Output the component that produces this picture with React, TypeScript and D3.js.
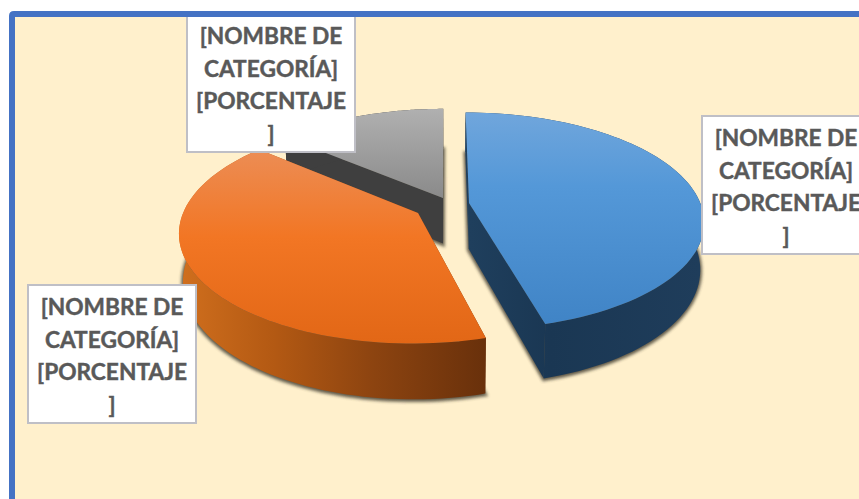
import React from "react";
import * as d3 from "d3";

const categories = ["azul", "naranja", "gris"];
const shareValues = [45.8, 40.4, 13.8];
const labelLines = ["[NOMBRE DE", "CATEGORÍA]", "[PORCENTAJE", "]"];

const W = 859, H = 499;
const view = { cx: 445, cy: 205, b: 232, a: 106, k: 0.165, depth: 46, taper: 0.985 };
// exploded apex of each slice, in screen space
const apexX = [469, 418, 443];
const apexY = [203, 213, 198];
const wallFill = ["url(#sideBlue)", "url(#sideOrange)", "#3f3f3f"];
const topFill = ["url(#topBlue)", "url(#topOrange)", "url(#topGray)"];
const labelBoxX = [702, 28, 187];
const labelBoxY = [116, 285, 14];

type P = [number, number];
const project = (wx: number, wy: number): P => {
  const den = 1 - view.k * wy;
  return [view.cx + (wx * view.b) / den, view.cy + (wy * view.a) / den];
};
const lower = (wx: number, wy: number): P => {
  const den = 1 - view.k * wy;
  const [x, y] = project(wx, wy);
  return [view.cx + (x - view.cx) * view.taper, y + view.depth / den];
};
const line = d3.line<P>();

const arcs = d3.pie<number>().sort(null).value((d) => d)(shareValues);

function slicePaths(i: number) {
  const dY = apexY[i] - view.cy;
  const wy0 = dY / (view.a + view.k * dY);
  const wx0 = ((apexX[i] - view.cx) * (1 - view.k * wy0)) / view.b;
  const { startAngle, endAngle } = arcs[i];
  const steps = d3.range(0, 81).map((s) => startAngle + ((endAngle - startAngle) * s) / 80);
  const rim: P[] = steps.map((t) => [wx0 + Math.sin(t), wy0 - Math.cos(t)]);
  const topRim = rim.map(([x, y]) => project(x, y));
  const botRim = rim.map(([x, y]) => lower(x, y));
  const topApex = project(wx0, wy0);
  const botApex = lower(wx0, wy0);
  const top = line([topApex, ...topRim])! + "Z";
  const bottom = line([botApex, ...botRim])! + "Z";
  const outerWall = line([...topRim, ...[...botRim].reverse()])! + "Z";
  const startWall = line([topApex, topRim[0], botRim[0], botApex])! + "Z";
  const endWall = line([topApex, topRim[80], botRim[80], botApex])! + "Z";
  return { top, bottom, outerWall, startWall, endWall };
}

const paths = categories.map((_, i) => slicePaths(i));
const paintOrder = [2, 0, 1];

export default function App() {
  return (
    <svg width={W} height={H} viewBox={`0 0 ${W} ${H}`} style={{ position: "absolute", left: 0, top: 0, display: "block" }}>
      <defs>
        <linearGradient id="topBlue" x1="0" x2="0" y1="0" y2="1">
          <stop offset="0" stopColor="#70a6dc" />
          <stop offset="0.35" stopColor="#5498d8" />
          <stop offset="1" stopColor="#4084c6" />
        </linearGradient>
        <linearGradient id="topOrange" x1="0" x2="0" y1="0" y2="1">
          <stop offset="0" stopColor="#ec8d55" />
          <stop offset="0.45" stopColor="#f27624" />
          <stop offset="1" stopColor="#e26716" />
        </linearGradient>
        <linearGradient id="topGray" x1="0" x2="0" y1="0" y2="1">
          <stop offset="0" stopColor="#b0b0b0" />
          <stop offset="1" stopColor="#8a8a8a" />
        </linearGradient>
        <linearGradient id="sideBlue" gradientUnits="userSpaceOnUse" x1="470" x2="700" y1="0" y2="0">
          <stop offset="0" stopColor="#1f3f5d" />
          <stop offset="0.35" stopColor="#1a3753" />
          <stop offset="1" stopColor="#1f3d5b" />
        </linearGradient>
        <linearGradient id="sideOrange" gradientUnits="userSpaceOnUse" x1="183" x2="488" y1="0" y2="0">
          <stop offset="0" stopColor="#cf6e1d" />
          <stop offset="0.3" stopColor="#b35913" />
          <stop offset="0.62" stopColor="#8d4410" />
          <stop offset="1" stopColor="#68300b" />
        </linearGradient>
        <filter id="soft" x="-10%" y="-10%" width="120%" height="120%">
          <feGaussianBlur stdDeviation="1.4" />
        </filter>
      </defs>

      <rect x={12} y={14} width={W + 20} height={H + 20} fill="#fff0cc" />

      {paintOrder.map((i) => (
        <path key={`shadow-${i}`} d={paths[i].bottom} fill="#3d382c" stroke="#3d382c" strokeWidth={4} strokeOpacity={0.75} opacity={0.85} filter="url(#soft)" transform="translate(0,1)" />
      ))}

      {paintOrder.map((i) => (
        <g key={categories[i]}>
          <path d={paths[i].startWall} fill={wallFill[i]} />
          <path d={paths[i].endWall} fill={wallFill[i]} />
          <path d={paths[i].outerWall} fill={wallFill[i]} />
          <path d={paths[i].top} fill={topFill[i]} />
        </g>
      ))}

      {categories.map((c, i) => (
        <g key={`label-${c}`} transform={`translate(${labelBoxX[i]},${labelBoxY[i]})`}>
          <rect x={0} y={0} width={168} height={138} fill="#ffffff" stroke="#bfbfc6" strokeWidth={2} />
          {labelLines.map((t, j) => (
            <text key={j} x={84} y={30 + j * 32.7} textAnchor="middle" fontFamily="Lato, 'Open Sans', sans-serif" fontWeight={700} fontSize={22.7} fill="#595959" stroke="#595959" strokeWidth={0.45}>
              {t}
            </text>
          ))}
        </g>
      ))}

      <path d={`M${W + 10},14 H14 Q12,14 12,16 V${H + 10}`} fill="none" stroke="#4472c4" strokeWidth={6} />
    </svg>
  );
}
